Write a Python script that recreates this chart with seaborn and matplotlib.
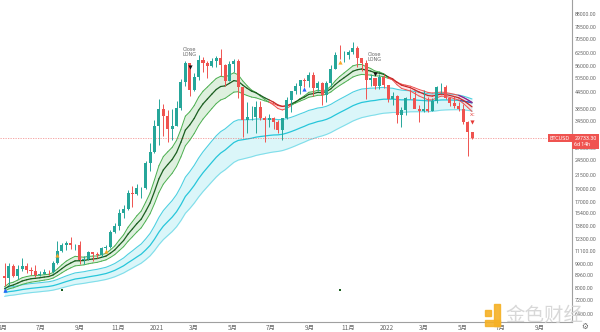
import numpy as np
import pandas as pd
import matplotlib
matplotlib.use("Agg")
import matplotlib.pyplot as plt
import matplotlib.dates as mdates
from matplotlib.patches import Rectangle
from matplotlib.ticker import NullLocator, NullFormatter
import seaborn as sns

# ---------------- data (weekly BTCUSD candles) ----------------
first_week = "2020-05-04"
opens = [8900, 8720, 9680, 8900, 9450, 9750, 9340, 9300, 9010, 9080, 9240, 9200, 9950, 11100, 11700, 11900, 11650,
         11680, 10250, 10330, 10930, 10770, 10680, 11380, 11500, 13030, 13760, 15480, 15970, 18400, 18180, 19150,
         19250, 23860, 26250,
         33000, 38200, 36000, 32250, 33100, 38800, 48500, 57400, 45200, 50900, 59000, 57400, 55800, 58200, 60000,
         56300, 49000, 56600, 58200, 46400, 34700, 35600, 35800, 39100, 35500, 34700, 35300, 34250, 31800, 35400,
         41500, 44700, 47000, 49300, 48800, 51800, 46000, 48300, 43200, 48200, 54600, 61500, 61300, 61400, 63300,
         65500, 59700, 57200, 49400, 50100, 46700, 50800,
         47300, 41800, 43100, 36300, 37900, 42400, 42200, 38400, 37700, 38400, 37800, 41300, 46400, 46500, 42200,
         40400, 39400, 38500, 34100, 31300]
highs = [9990, 9940, 9840, 9760, 10430, 9980, 9590, 9790, 9320, 9480, 9340, 10150, 12100, 11900, 12080, 12480, 11800,
         12100, 10600, 11100, 10990, 10950, 11500, 11720, 13350, 14100, 15950, 16500, 18950, 19500, 19900, 19400,
         24300, 28400, 34800,
         41950, 40100, 37850, 38500, 40950, 49700, 58300, 57500, 52600, 61700, 60600, 58400, 60100, 61200, 64800,
         57000, 58400, 59500, 59600, 46600, 40800, 39500, 41300, 41300, 36000, 36700, 35900, 34700, 35400, 42600,
         44800, 48100, 49400, 50500, 52900, 52800, 48800, 48400, 49200, 56500, 62900, 67000, 63700, 64300, 69000,
         66300, 59900, 59000, 51900, 50500, 52000, 52100,
         47500, 44400, 43500, 38900, 42600, 45800, 44700, 39800, 45400, 42600, 42300, 46700, 48200, 47200, 42400,
         42900, 40800, 40000, 34400, 31400]
lows = [8120, 8200, 8800, 8640, 9260, 9100, 8950, 8850, 8900, 9050, 9000, 9150, 9900, 10950, 11150, 11300, 11150,
        9880, 9850, 10250, 10140, 10400, 10530, 11210, 11400, 12950, 13300, 14800, 15800, 16200, 18100, 17600,
        19000, 22350, 26000,
        28000, 30400, 28800, 29300, 33100, 38000, 47000, 43000, 45000, 49300, 53200, 50400, 55600, 55500, 51000,
        47000, 48800, 53000, 42200, 30000, 31100, 34800, 31000, 34800, 28800, 32700, 32100, 31000, 29300, 35200,
        37500, 43800, 43900, 46300, 46500, 42800, 44700, 39600, 40800, 46900, 54400, 59600, 57800, 59400, 62300,
        55600, 53500, 42000, 46800, 45600, 45500, 45900,
        40600, 39600, 34000, 32900, 36300, 41700, 39900, 34300, 37500, 37200, 37600, 40500, 44200, 41900, 39200,
        38600, 37600, 33700, 25400, 29500]
closes = [8720, 9680, 8900, 9450, 9750, 9340, 9300, 9010, 9080, 9240, 9200, 9950, 11100, 11700, 11900, 11650, 11680,
          10250, 10330, 10930, 10770, 10680, 11380, 11500, 13030, 13760, 15480, 15970, 18400, 18180, 19150, 19250,
          23860, 26250, 33000,
          38200, 36000, 32250, 33100, 38800, 48500, 57400, 45200, 50900, 59000, 57400, 55800, 58200, 60000, 56300,
          49000, 56600, 58200, 46400, 34700, 35600, 35800, 39100, 35500, 34700, 35300, 34250, 31800, 35400, 41500,
          44700, 47000, 49300, 48800, 51800, 46000, 48300, 43200, 48200, 54600, 61500, 61300, 61400, 63300, 65500,
          59700, 57200, 49400, 50100, 46700, 50800, 47300,
          41800, 43100, 36300, 37900, 42400, 42200, 38400, 37700, 38400, 37800, 41300, 46400, 46500, 42200, 40400,
          39400, 38500, 34100, 31300, 29733.3]
last_price = 29733.30

# moving-average ribbons: lengths and values at the first visible week
green_lengths = [12, 17, 24]
green_start = [8100, 7950, 7800]
cyan_lengths = [45, 65, 90]
cyan_start = [8000, 7700, 7450]

# right price-axis labels
price_ticks = [88000, 78500, 70500, 62500, 56000, 50500, 44500, 38500, 34500, 27300, 24500, 21500, 19000,
               17000, 15400, 13800, 12300, 11100, 9900, 8960, 8000, 7200, 6400]
# bottom time-axis labels
month_ticks = ["2020-05-01", "2020-07-01", "2020-09-01", "2020-11-01", "2021-01-01", "2021-03-01", "2021-05-01",
               "2021-07-01", "2021-09-01", "2021-11-01", "2022-01-01", "2022-03-01", "2022-05-01", "2022-07-01",
               "2022-09-01"]
month_labels = ["5月", "7月", "9月", "11月", "2021", "3月", "5月", "7月", "9月", "11月", "2022", "3月", "5月", "7月", "9月"]

# strategy signals
up_sig_dates = ["2020-05-04", "2021-08-23"]
up_sig_prices = [7870, 45800]
warn_sig_dates = ["2020-07-27", "2020-10-12", "2021-10-18"]
warn_sig_prices = [10700, 11100, 57800]
close_sig_dates = ["2021-02-22", "2021-12-13"]
close_sig_prices = [55300, 52000]
close_text_prices = [63100, 60300]
exit_sig_dates = ["2022-05-16"]
exit_sig_prices = [34200]
dot_dates = ["2020-08-03", "2021-10-18"]
dot_prices = [7870, 7870]

# ---------------- style ----------------
sns.set_style("white")
plt.rcParams['font.family'] = ['Noto Sans CJK SC', 'DejaVu Sans']

W, H = 600, 332
fig = plt.figure(figsize=(W / 100, H / 100), dpi=100)
ax = fig.add_axes([0, 10 / H, 572 / W, 322 / H])

weeks = pd.date_range(first_week, periods=len(closes), freq="7D")
x = mdates.date2num(weeks)
o, h, l, c = map(np.asarray, (opens, highs, lows, closes))

df = pd.DataFrame({"x": x, "close": c})


def ema(vals, n, seed):
    out = [seed]
    a = 2.0 / (n + 1)
    for v in vals[1:]:
        out.append(out[-1] + a * (v - out[-1]))
    return np.array(out)


g = [ema(c, n, s) for n, s in zip(green_lengths, green_start)]
cy = [ema(c, n, s) for n, s in zip(cyan_lengths, cyan_start)]

# cyan ribbon
cy_hi = np.maximum.reduce(cy)
cy_lo = np.minimum.reduce(cy)
ax.fill_between(x, cy_hi, cy_lo, color="#c4f0f6", alpha=0.6, lw=0, zorder=1)
for k, arr in enumerate(cy):
    df[f"cy{k}"] = arr
sns.lineplot(data=df, x="x", y="cy0", ax=ax, color="#4dd0e1", lw=0.8, zorder=2)
sns.lineplot(data=df, x="x", y="cy1", ax=ax, color="#26c6da", lw=0.9, zorder=2)
sns.lineplot(data=df, x="x", y="cy2", ax=ax, color="#80deea", lw=0.8, zorder=2)
ax.plot(x[-4:], cy[1][-4:], color="#3f51b5", lw=0.9, zorder=2.1)

# green / red ribbon
up = g[0] >= g[2]
ax.fill_between(x, g[0], g[2], where=up, interpolate=True, color="#c8e6c9", alpha=0.6, lw=0, zorder=1.5)
ax.fill_between(x, g[0], g[2], where=~up, interpolate=True, color="#ffcdd2", alpha=0.5, lw=0, zorder=1.5)
for i in range(len(x) - 1):
    st = up[i + 1]
    co = "#4caf50" if st else "#ef5350"
    cm = "#1b5e20" if st else "#c62828"
    ax.plot(x[i:i + 2], g[0][i:i + 2], color=co, lw=0.7, zorder=2.5)
    ax.plot(x[i:i + 2], g[2][i:i + 2], color=co, lw=0.7, zorder=2.5)
    ax.plot(x[i:i + 2], g[1][i:i + 2], color=cm, lw=0.9, zorder=2.6)
ax.plot(x[-4:], g[2][-4:], color="#7b1fa2", lw=0.8, zorder=2.7)

# candles
upc, dnc = "#26a69a", "#ef5350"
cols = np.where(c >= o, upc, dnc)
ax.vlines(x, l, h, colors=cols, lw=0.7, zorder=3)
body_lo = np.minimum(o, c)
body_h = np.maximum(np.abs(c - o), body_lo * 0.004)
ax.bar(x, body_h, bottom=body_lo, width=4.8, color=cols, lw=0, zorder=3.5)

# signals
ax.scatter(mdates.date2num(pd.to_datetime(up_sig_dates)), up_sig_prices, marker="^", s=9, color="#2962ff", zorder=5, lw=0)
ax.scatter(mdates.date2num(pd.to_datetime(warn_sig_dates)), warn_sig_prices, marker="^", s=9, color="#f9a825", zorder=5, lw=0)
ax.scatter(mdates.date2num(pd.to_datetime(close_sig_dates)), close_sig_prices, marker="v", s=9, color="#111111", zorder=5, lw=0)
ax.scatter(mdates.date2num(pd.to_datetime(exit_sig_dates)), exit_sig_prices, marker="v", s=9, color="#e53935", zorder=5, lw=0)
ax.scatter(mdates.date2num(pd.to_datetime(dot_dates)), dot_prices, marker="s", s=3, color="#1b5e20", zorder=5, lw=0)
for d, p in zip(close_sig_dates, close_text_prices):
    ax.text(mdates.date2num(pd.Timestamp(d)), p, "Close\nLONG", fontsize=3.6, color="#666666",
            ha="center", va="center", linespacing=1.0, zorder=6, family=["DejaVu Sans"])
ax.text(mdates.date2num(pd.Timestamp(exit_sig_dates[0])) + 1, exit_sig_prices[0] * 1.05, "XC", fontsize=3,
        color="#e53935", ha="center", va="bottom", zorder=6, family=["DejaVu Sans"])

# last price line
ax.axhline(last_price, color="#ef5350", lw=0.6, ls=(0, (1.5, 1.5)), alpha=0.6, zorder=2)

# axes setup
ax.set_yscale("log")
ax.set_ylim(5950, 99500)
t0 = mdates.date2num(pd.Timestamp("2021-01-01"))
ax.set_xlim(t0 - 249.2, t0 + 658.7)
ax.yaxis.tick_right()
ax.set_yticks(price_ticks)
ax.set_yticklabels([f"{v:.2f}" for v in price_ticks], family=["Roboto", "DejaVu Sans"])
ax.yaxis.set_minor_locator(NullLocator())
ax.yaxis.set_minor_formatter(NullFormatter())
ax.set_xticks(mdates.date2num(pd.to_datetime(month_ticks)))
ax.set_xticklabels(month_labels)
ax.tick_params(axis="y", length=0, pad=2.0, labelsize=3.8, labelcolor="#666666")
ax.tick_params(axis="x", length=0, pad=1.5, labelsize=4.6, labelcolor="#666666")
ax.set_xlabel("")
ax.set_ylabel("")
for s in ["top", "left"]:
    ax.spines[s].set_visible(False)
for s in ["right", "bottom"]:
    ax.spines[s].set_color("#a0a0a0")
    ax.spines[s].set_linewidth(0.8)
ax.set_facecolor("white")

# price labels on the scale
ax.annotate("BTCUSD", xy=(1.0, last_price), xycoords=("axes fraction", "data"), xytext=(-1.5, 0),
            textcoords="offset points", ha="right", va="center", fontsize=3.6, color="white",
            family=["DejaVu Sans"], zorder=7,
            bbox=dict(boxstyle="square,pad=0.35", fc="#ef5350", ec="none"))
ax.annotate(f"{last_price:.2f}\n6d 14h", xy=(1.0, last_price), xycoords=("axes fraction", "data"),
            xytext=(1.6, -2.4), textcoords="offset points", ha="left", va="center", fontsize=3.8,
            color="white", linespacing=1.25, family=["Roboto", "DejaVu Sans"], annotation_clip=False, zorder=7,
            bbox=dict(boxstyle="square,pad=0.4", fc="#ef5350", ec="none"))

# gear icon and watermark
fig.text(585 / W, 1 - 326 / H, "⚙", fontsize=5.5, color="#666666", ha="center", va="center",
         family=["DejaVu Sans"])
fig.text(544 / W, 1 - 315 / H, "金色财经", fontsize=14, color="#d4d4d4", ha="center", va="center",
         family=["Noto Sans CJK SC"], alpha=0.9, zorder=10)
for (rx, ry, rw, rh) in [(485, 310, 6, 6), (494, 304, 6, 22), (485, 320, 15, 6)]:
    fig.patches.append(Rectangle((rx / W, 1 - (ry + rh) / H), rw / W, rh / H, transform=fig.transFigure,
                                 color="#f5b125", alpha=0.9, zorder=10))

fig.savefig("out.png", dpi=100)
